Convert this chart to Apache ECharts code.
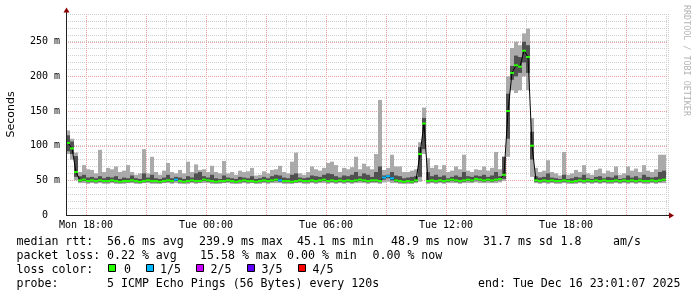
<!DOCTYPE html>
<html><head><meta charset="utf-8">
<script src="https://cdn.jsdelivr.net/npm/echarts@6/dist/echarts.min.js"></script>
<style>html,body{margin:0;padding:0;background:#fff}#c{width:697px;height:297px}</style>
</head><body><div id="c"></div>
<script>
// time bins: hours since Mon 00:00, each bin 12 minutes
const binStart = 17;
const binHours = 0.2;
// median rtt (ms) per bin
const median = [
104,96,62,50,51,49,50,49,50,49,
49,50,49,48,49,49,50,49,48,49,
50,49,49,48,49,50,49,51,49,48,
49,50,49,49,51,50,49,48,49,49,
50,49,48,49,50,49,49,48,49,50,
49,50,51,50,49,49,48,49,50,49,
49,50,49,50,51,49,50,49,50,49,
50,49,50,51,50,49,50,50,49,54,
56,53,50,49,48,49,48,50,88,132,
49,50,49,50,49,50,51,50,49,50,
51,50,52,51,50,51,50,51,52,58,
150,205,216,214,237,228,100,50,49,50,
49,50,49,49,50,49,48,49,50,49,
50,49,50,49,50,49,49,50,49,50,
49,50,49,50,49,49,50,49,50,51];
// smoke: lowest ping
const ping1 = [
88,80,50,46,46,45,46,45,46,45,
45,46,45,45,45,46,46,45,45,46,
46,45,45,45,46,46,45,46,45,45,
45,46,45,46,46,46,45,45,45,46,
46,45,45,45,46,45,46,45,45,46,
45,46,46,46,45,45,45,46,46,45,
45,46,45,46,46,45,46,45,46,45,
46,45,46,46,46,45,46,46,45,47,
48,46,46,45,45,45,45,46,48,88,
45,46,45,46,45,46,46,46,45,46,
46,46,47,46,46,46,46,46,47,49,
84,180,176,180,200,180,55,46,45,46,
45,46,45,45,46,45,45,45,46,45,
46,45,46,45,46,45,45,46,45,46,
45,46,45,46,45,45,46,45,46,46];
// smoke: second ping
const ping2 = [
92,88,55,48,49,47,48,47,48,47,
47,48,47,46,47,47,48,47,46,47,
48,47,47,46,47,48,47,49,47,46,
47,48,47,47,49,48,47,46,47,47,
48,47,46,47,48,47,47,46,47,48,
47,48,49,48,47,47,46,47,48,47,
47,48,47,48,49,47,48,47,48,47,
48,47,48,49,48,47,48,48,47,51,
53,50,48,47,46,47,46,48,55,95,
47,48,47,48,47,48,49,48,47,48,
49,48,50,49,48,49,48,49,50,52,
110,195,200,205,220,205,80,48,47,48,
47,48,47,47,48,47,46,47,48,47,
48,47,48,47,48,47,47,48,47,48,
47,48,47,48,47,47,48,47,48,49];
// smoke: fourth ping
const ping4 = [
115,106,85,56,58,54,55,53,56,53,
55,54,56,52,54,53,57,53,52,60,
54,58,53,52,54,58,53,55,54,52,
56,54,60,62,56,54,58,53,52,57,
54,53,52,55,54,53,56,52,53,55,
53,56,58,57,54,53,58,60,54,53,
54,57,56,55,58,60,59,56,54,57,
56,58,62,56,60,58,55,62,70,57,
58,62,57,56,53,54,55,56,98,140,
62,56,58,55,57,53,55,57,55,62,
56,55,57,56,58,55,57,62,56,84,
175,215,230,228,250,245,120,56,54,55,
60,54,53,52,58,52,53,55,54,58,
53,52,55,56,53,55,54,57,52,53,
57,54,56,53,58,55,54,55,62,64];
// smoke: highest ping
const ping5 = [
122,110,90,62,72,66,65,60,94,62,
68,66,70,62,64,72,62,58,60,95,
60,84,62,58,64,75,62,60,65,60,
77,62,73,65,66,62,71,62,60,78,
60,62,58,64,62,63,68,57,58,63,
60,65,66,71,62,60,77,90,60,58,
62,70,66,64,68,75,77,72,62,68,
66,69,84,66,74,70,66,88,166,65,
68,87,70,70,62,62,64,66,105,155,
82,68,72,66,72,62,64,70,66,87,
64,62,66,65,70,64,68,91,66,84,
200,241,250,245,262,269,140,68,62,64,
79,62,60,57,91,58,60,65,62,72,
60,58,65,67,60,64,62,70,58,60,
70,64,67,62,72,64,62,66,87,87];
// bins with packet loss and their loss level (of 5)
const lossBins = [27,53,79,80,81];
const lossLevels = [1,1,1,1,1];
const lossLabels = ['0','1/5','2/5','3/5','4/5'];
const lossColors = ['#26ff00','#00b8ff','#c800ff','#5e00ff','#ff0000'];
// labelled / major grid values
const yTicks = [0,50,100,150,200,250];
const majorHours = [18,21,24,27,30,33,36,39,42,45];

const FONT = '"DejaVu Sans Mono", monospace';
const MAJOR = '#e8a0a0', MINOR = '#d0d0d0', AXIS = '#222';
const data = median.map((m, i) => {
  const k = lossBins.indexOf(i);
  return [binStart + i * binHours, ping1[i], ping2[i], m, ping4[i], ping5[i], k < 0 ? 0 : lossLevels[k]];
});
const lineData = median.map((m, i) => [binStart + (i + 0.5) * binHours, m]);

function renderSmoke(params, api) {
  const t = api.value(0);
  const a = api.coord([t, api.value(1)]);
  const b = api.coord([t + binHours, api.value(5)]);
  const c = api.coord([t, api.value(2)]);
  const d = api.coord([t, api.value(4)]);
  const w = b[0] - a[0];
  return {type: 'group', children: [
    {type: 'rect', shape: {x: a[0], y: b[1], width: w, height: a[1] - b[1]}, style: {fill: '#aaaaaa'}},
    {type: 'rect', shape: {x: a[0], y: d[1], width: w, height: c[1] - d[1]}, style: {fill: '#505050'}}
  ]};
}
function renderMedian(params, api) {
  const t = api.value(0);
  const p = api.coord([t, api.value(3)]);
  const q = api.coord([t + binHours, api.value(3)]);
  return {type: 'rect', shape: {x: p[0], y: p[1] - 1, width: q[0] - p[0], height: 2},
    style: {fill: lossColors[api.value(6)]}};
}
function renderVMajor(params, api) {
  const cs = params.coordSys;
  const x = Math.round(api.coord([api.value(0), 0])[0]) + 0.5;
  return {type: 'line', shape: {x1: x, y1: cs.y, x2: x, y2: cs.y + cs.height},
    style: {stroke: MAJOR, lineWidth: 1, lineDash: [1, 1]}};
}
function renderHMajor(params, api) {
  const cs = params.coordSys;
  const y = Math.round(api.coord([17, api.value(1)])[1]) + 0.5;
  return {type: 'line', shape: {x1: cs.x, y1: y, x2: cs.x + cs.width, y2: y},
    style: {stroke: MAJOR, lineWidth: 1, lineDash: [1, 1]}};
}
function pad(n) { return (n < 10 ? '0' : '') + n; }

const G = [];
function txt(s, x, y) {
  G.push({type: 'text', x: x, y: y, silent: true, z: 100,
    style: {text: s, font: '11.6px ' + FONT, fill: '#000', verticalAlign: 'middle'}});
}
txt('median rtt:', 16.5, 242);
txt('56.6 ms avg', 107, 242);
txt('239.9 ms max', 199, 242);
txt('45.1 ms min', 297, 242);
txt('48.9 ms now', 391, 242);
txt('31.7 ms sd', 483, 242);
txt('1.8', 560.5, 242);
txt('am/s', 613, 242);
txt('packet loss:', 16.5, 256);
txt('0.22 % avg', 107, 256);
txt('15.58 % max', 200, 256);
txt('0.00 % min', 287, 256);
txt('0.00 % now', 372.5, 256);
txt('loss color:', 16.5, 270);
const sqX = [108.5, 146.5, 196.5, 247.5, 298.5];
const lblX = [124, 160, 210.5, 261.5, 312.5];
lossLabels.forEach((l, i) => {
  G.push({type: 'rect', silent: true, shape: {x: sqX[i], y: 264.5, width: 7, height: 7},
    style: {fill: lossColors[i], stroke: '#000', lineWidth: 1}});
  txt(l, lblX[i], 270);
});
txt('probe:', 16.5, 283.5);
txt('5 ICMP Echo Pings (56 Bytes) every 120s', 107, 283.5);
txt('end: Tue Dec 16 23:01:07 2025', 478, 283.5);
// axes with arrows (drawn above data)
G.push({type: 'line', silent: true, z: 100, shape: {x1: 66.5, y1: 216, x2: 66.5, y2: 10}, style: {stroke: AXIS, lineWidth: 1}});
G.push({type: 'polygon', silent: true, z: 100, shape: {points: [[66.5, 7.5], [63.5, 12.5], [69.5, 12.5]]}, style: {fill: '#8b0000'}});
G.push({type: 'line', silent: true, z: 100, shape: {x1: 66, y1: 215.5, x2: 671, y2: 215.5}, style: {stroke: AXIS, lineWidth: 1}});
G.push({type: 'polygon', silent: true, z: 100, shape: {points: [[674, 215.5], [669, 212.5], [669, 218.5]]}, style: {fill: '#8b0000'}});
G.push({type: 'text', x: 686, y: 5, rotation: -Math.PI / 2, silent: true,
  style: {text: 'RRDTOOL / TOBI OETIKER', font: '8.4px ' + FONT, fill: '#b4b4b4', verticalAlign: 'middle', align: 'left'}});

const chart = echarts.init(document.getElementById('c'));
chart.setOption({
  animation: false,
  backgroundColor: '#fff',
  grid: {left: 66, top: 14, width: 602, height: 201, containLabel: false, outerBoundsMode: 'none'},
  xAxis: {
    type: 'value', min: 17, max: 47.1, interval: 1,
    axisLine: {show: false},
    axisTick: {show: false},
    axisLabel: {
      margin: 5, color: '#000', fontFamily: FONT, fontSize: 10,
      formatter: v => (v % 6 === 0 ? (v < 24 ? 'Mon ' : 'Tue ') + pad(v % 24) + ':00' : '')
    },
    splitLine: {show: true, lineStyle: {color: MINOR, type: [1, 1], width: 1}}
  },
  yAxis: {
    type: 'value', min: 0, max: 290, interval: 10,
    name: 'Seconds', nameLocation: 'middle', nameGap: 49,
    nameTextStyle: {fontFamily: 'DejaVu Sans', fontSize: 11, color: '#000'},
    axisLine: {show: false},
    axisTick: {show: false},
    axisLabel: {
      margin: 6, color: '#000', fontFamily: FONT, fontSize: 10,
      formatter: v => (yTicks.indexOf(v) < 0 ? '' : (v === 0 ? '0  ' : v + ' m'))
    },
    splitLine: {show: true, lineStyle: {color: MINOR, type: [1, 1], width: 1}}
  },
  series: [
    {type: 'custom', name: 'vmajor', renderItem: renderVMajor, data: majorHours.map(h => [h, 0]),
      clip: true, z: 1, silent: true, encode: {x: 0, y: 1}},
    {type: 'custom', name: 'hmajor', renderItem: renderHMajor, data: yTicks.filter(v => v > 0).map(v => [17, v]),
      clip: true, z: 1, silent: true, encode: {x: 0, y: 1}},
    {type: 'custom', name: 'smoke', renderItem: renderSmoke, data: data, clip: true, z: 3,
      encode: {x: 0, y: [1, 5]}},
    {type: 'line', name: 'median', data: lineData, showSymbol: false, symbol: 'none', z: 4,
      lineStyle: {color: '#000', width: 1}, clip: true},
    {type: 'custom', name: 'loss', renderItem: renderMedian, data: data, clip: true, z: 5,
      encode: {x: 0, y: 3}}
  ],
  graphic: G
});
</script></body></html>
